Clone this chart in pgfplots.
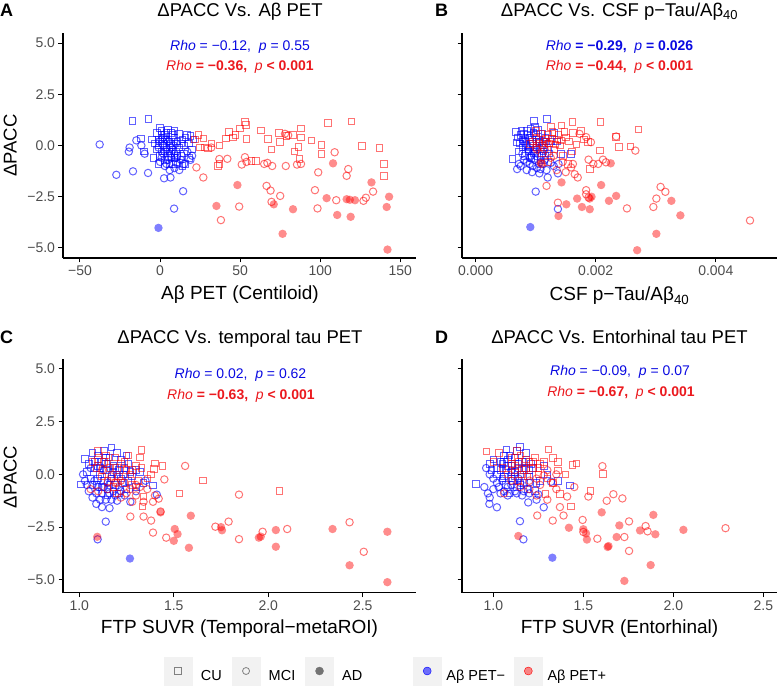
\documentclass[border=0pt]{standalone}
\usepackage{fontspec}
\setmainfont{Liberation Sans}
\usepackage{pgfplots}
\pgfplotsset{compat=1.18}
\definecolor{ptblue}{RGB}{0,0,255}
\definecolor{ptred}{RGB}{255,0,0}
\definecolor{txtblue}{RGB}{10,10,225}
\definecolor{txtred}{RGB}{235,25,30}
\definecolor{tickgray}{RGB}{77,77,77}
\definecolor{keybg}{RGB}{242,242,242}
\newcommand{\fs}[1]{\fontsize{#1}{#1}\selectfont}
\pgfplotsset{
  panel/.style={scale only axis, axis lines=left,
    axis line style={-, black, line width=1.6pt},
    tick style={black, line width=1pt}, tick align=outside, major tick length=4.5pt,
    clip=false, ytick={-5,-2.5,0,2.5,5},
    ticklabel style={font=\fs{14}, text=tickgray}},
  bCU/.style={only marks, color=ptblue, mark=square, mark size=3.3pt, mark options={draw=ptblue, draw opacity=0.62, line width=1pt}},
  bMCI/.style={only marks, color=ptblue, mark=o, mark size=3.7pt, mark options={draw=ptblue, draw opacity=0.62, line width=1pt}},
  bAD/.style={only marks, color=ptblue, mark=*, mark size=4.2pt, mark options={draw opacity=0, fill=ptblue, fill opacity=0.5}},
  rCU/.style={only marks, color=ptred, mark=square, mark size=3.3pt, mark options={draw=ptred, draw opacity=0.55, line width=1pt}},
  rMCI/.style={only marks, color=ptred, mark=o, mark size=3.7pt, mark options={draw=ptred, draw opacity=0.55, line width=1pt}},
  rAD/.style={only marks, color=ptred, mark=*, mark size=4.2pt, mark options={draw opacity=0, fill=ptred, fill opacity=0.45}},
}
\begin{document}
\begin{tikzpicture}
\useasboundingbox (0,0) rectangle (778pt,685pt);
% ---------------- Panel A
\begin{axis}[panel, at={(63pt,427pt)}, anchor=south west, width=353pt, height=225pt,
  xmin=-60.6, xmax=159.8, ymin=-5.49, ymax=5.49,
  xtick={-50,0,50,100,150}, xticklabels={−50,0,50,100,150},
  yticklabels={−5.0,−2.5,0.0,2.5,5.0}]
\addplot[bCU] coordinates {(-17.3,1.2)(-7.1,1.28)(-12,0.35)(-10,-0.3)(-2,0.6)(0,0.85)(1,0.7)(3,0.5)(5,0.75)(7,0.6)(9,0.4)(12,0.55)(14,0.3)(17,0.5)(19,0.45)(20,-0.2)(18,-0.6)(16,-0.9)(14,-1.0)(10,-0.8)(6,-0.9)(3,-0.7)(0,-0.5)(-2,-0.2)(-3,0.1)(-1,0.3)(2,0.1)(4,-0.1)(6,0.2)(8,0)(10,-0.3)(12,-0.1)(15,0)(18,0.1)(21,0.3)(-4,-0.6)(1,-0.3)(7,-0.4)(13,-0.5)(-1,-0.9)(2,0.4)(4,0.6)(6,-0.3)(8,0.5)(9,-0.6)(11,0.2)(5,-0.5)(3,-0.3)(-1,0)(0,0.2)(7,0.1)(9,0.7)(11,-0.5)(13,0.1)(15,-0.4)(16,0.4)(-5,0.3)(1,0.5)(4,0.3)(8,-0.9)};
\addplot[bMCI] coordinates {(-37.7,0.05)(-27.3,-1.43)(-16.9,-1.26)(-7.5,-1.34)(-19,-0.1)(-19.5,-0.3)(-14.8,0.25)(-11.7,0)(-9.6,-0.4)(2.5,-1.6)(6.5,-1.56)(14.4,-2.23)(8.75,-3.08)(0,-0.8)(2,-0.4)(4,-0.2)(5,0.2)(7,-0.6)(9,-1.1)(11,-0.9)(12,-1.2)(1,0.3)(3,0.3)(-1,-0.1)(8,-0.2)(10,0.1)(13,-0.7)(19,-0.7)(20,-0.5)(6,-1.2)(1,-0.6)(3,-1.0)(5,-0.7)(7,-0.1)(9,-0.4)(4,-0.9)(2,0.0)(10,-0.6)(6,0.0)(15,-0.9)(17,-0.3)};
\addplot[bAD] coordinates {(-1,-4.02)};
\addplot[rCU] coordinates {(24,0.5)(25,-0.1)(28,-0.1)(30,-0.15)(27,0.35)(37,0)(37,-0.9)(36,-1.0)(43,0.65)(41,0.35)(45.6,0.4)(50,0.82)(53,1.15)(53.5,1.0)(54,0.33)(60,-0.77)(63,0.74)(67.5,0.33)(69.6,-0.2)(75,0.16)(74.4,0.62)(79,0.45)(83,0.5)(84,-0.3)(88,0.82)(88,0.4)(86.5,-0.08)(94.6,0.25)(100.8,0.03)(100.8,-0.41)(105,1.11)(119.6,1.18)(126,-0.03)(137,-0.11)(140,-0.9)(140,-1.5)(87,-0.65)(22,0.3)(32,0.1)(47,0.5)(57,-0.75)};
\addplot[rMCI] coordinates {(22.7,-1.07)(27,-1.56)(37,-0.66)(42,-0.65)(51,-0.93)(53,-0.57)(54,-0.8)(66.5,-1.97)(69,-2.2)(69.6,-2.75)(70,-1)(75,-2.46)(78,0.57)(78.5,-1)(85.5,-0.93)(49.4,-2.98)(38,-3.64)(96.7,-2.18)(98.3,-3.07)(98.75,-1.31)(109,-0.33)(110,-2.67)(116.5,-1.48)(117.5,-1.15)(127,-2.7)(128.5,-2.55)(133,-2.25)(65,-0.9)(80,0.5)(32,-0.1)(67,-0.85)(88,-0.9)};
\addplot[rAD] coordinates {(35.2,-2.95)(48.3,-1.93)(71,-2.87)(76.5,-4.31)(83,-3.11)(108,-0.87)(104,-2.57)(110.6,-3.39)(116.5,-2.62)(118.5,-2.65)(119,-3.48)(121.7,-2.67)(132,-1.8)(143,-2.5)(141.5,-3)(142,-5.08)};
\end{axis}
% ---------------- Panel B
\begin{axis}[panel, at={(462pt,427pt)}, anchor=south west, width=315pt, height=225pt,
  xmin=-0.228, xmax=5.02, ymin=-5.49, ymax=5.49,
  xtick={0,2,4}, xticklabels={0.000,0.002,0.004}, yticklabels={{},{},{},{},{}}]
\addplot[bCU] coordinates {(0.61,-0.66)(0.68,0.15)(0.67,0.66)(0.97,1.2)(1.19,1.28)(1.59,-0.41)(1.42,-0.41)(0.75,0.5)(0.8,0.2)(0.85,0.7)(0.9,0.4)(0.95,0.1)(1.0,0.5)(1.05,0.3)(1.1,0.0)(1.15,0.4)(1.2,-0.2)(1.25,0.2)(1.3,0.6)(0.72,-0.3)(0.78,-0.1)(0.82,-0.5)(0.88,-0.3)(0.93,-0.6)(0.98,-0.2)(1.03,-0.5)(1.08,-0.7)(1.13,-0.3)(0.7,0.4)(0.76,0.7)(0.83,0.35)(0.86,-0.05)(0.91,0.8)(0.96,0.6)(1.01,-0.1)(1.06,0.15)(1.11,0.55)(1.16,-0.5)(1.22,-0.4)(1.35,0.2)(0.78,0.3)(0.84,0.0)(0.87,0.5)(0.9,-0.1)(0.94,0.3)(0.97,-0.4)(1.02,0.2)(1.07,-0.2)(1.12,0.2)(0.74,0.1)(0.8,0.55)(0.99,0.9)(1.04,0.75)(1.14,-0.1)(1.18,0.2)};
\addplot[bMCI] coordinates {(1.0,-2.25)(1.37,-3.1)(0.69,-1.15)(0.9,-0.9)(1.06,-1.36)(1.2,-1.56)(1.37,-1.36)(1.08,-1.15)(1.38,-0.9)(0.75,-1.0)(0.8,-0.7)(0.85,-1.2)(0.95,-1.0)(1.0,-0.3)(1.12,-0.9)(1.18,-1.2)(0.72,-0.9)(0.88,-0.2)(1.25,-0.85)(1.3,-1.0)(0.82,0.1)(0.92,-0.5)(0.85,-0.8)(0.9,-0.6)(0.98,-0.7)(1.05,-0.9)(1.1,-0.5)(0.78,-0.4)(0.94,-1.3)(1.15,-0.7)(1.02,-1.1)(0.96,-0.3)};
\addplot[bAD] coordinates {(0.91,-3.98)};
\addplot[rCU] coordinates {(1.43,0.98)(1.61,1.15)(2.08,1.15)(2.71,0.79)(2.34,0.41)(2.39,-0.08)(2.58,-0.05)(1.87,0.16)(1.68,0.05)(1.54,-0.9)(1.9,-1.15)(2.07,-0.25)(1.48,0.66)(1.28,0.66)(1.09,0.58)(1.0,0.33)(0.9,0.08)(1.15,0.2)(1.2,0.5)(1.35,0.3)(1.4,0.0)(1.5,0.4)(1.55,0.2)(1.62,0.6)(1.3,-0.2)(1.25,0.9)(1.45,-0.5)(1.1,-0.4)(1.0,0.7)(0.95,0.2)(1.75,0.7)(1.8,0.3)(1.2,-0.8)(1.6,-0.3)(1.05,0.1)(1.12,0.0)(1.17,0.35)(1.22,0.1)(1.27,0.35)(1.33,0.05)(1.38,0.5)(1.42,0.25)};
\addplot[rMCI] coordinates {(1.73,0.57)(1.84,0.41)(1.92,0.16)(1.88,-0.69)(1.96,-0.9)(2.04,-0.9)(2.12,-0.69)(2.17,-0.82)(1.59,-1.07)(1.65,-1.4)(1.7,-1.56)(1.18,-1.97)(1.37,-2.79)(1.84,-2.18)(1.84,-2.38)(1.88,-2.54)(2.52,-3.07)(2.34,0.44)(2.66,-0.25)(2.96,-3.0)(3.01,-2.59)(3.08,-2.02)(3.16,-2.26)(4.57,-3.66)(1.62,-0.9)(1.3,-0.5)(1.1,-0.9)(1.2,0.1)(1.45,-0.8)(1.5,-1.3)(1.0,-0.1)(1.35,-1.2)(1.25,-0.6)(1.02,-0.2)(1.15,-0.2)};
\addplot[rAD] coordinates {(1.43,-1.8)(1.51,-2.87)(1.38,-3.44)(1.69,-2.59)(1.77,-3.0)(1.9,-3.11)(1.9,-2.59)(1.93,-2.5)(2.09,-1.93)(2.22,-2.7)(2.34,-2.46)(2.25,-0.87)(3.26,-2.7)(3.41,-3.41)(3.01,-4.31)(2.69,-5.11)(1.08,-0.85)};
\end{axis}
% ---------------- Panel C
\begin{axis}[panel, at={(63pt,92.5pt)}, anchor=south west, width=353pt, height=233.5pt,
  xmin=0.9138, xmax=2.7815, ymin=-5.6, ymax=5.47,
  xtick={1,1.5,2,2.5}, xticklabels={1.0,1.5,2.0,2.5},
  yticklabels={−5.0,−2.5,0.0,2.5,5.0}]
\addplot[bCU] coordinates {(1.01,-0.48)(1.03,0.72)(1.17,1.28)(1.39,-0.53)(1.34,-0.4)(1.05,0.5)(1.08,0.3)(1.1,0.9)(1.12,0.6)(1.14,0.2)(1.16,0.8)(1.18,0.4)(1.2,0.0)(1.22,0.7)(1.24,0.3)(1.26,0.5)(1.28,-0.1)(1.3,0.2)(1.06,-0.2)(1.09,-0.5)(1.11,0.0)(1.13,-0.3)(1.15,-0.7)(1.17,-0.2)(1.19,-0.5)(1.21,-0.9)(1.23,-0.4)(1.25,-0.7)(1.27,0.1)(1.07,1.0)(1.13,1.1)(1.2,1.0)(1.15,-1.0)(1.1,0.4)(1.18,0.1)(1.22,-0.2)(1.25,0.9)(1.32,0.1)(1.04,0.1)(1.3,-0.6)(1.08,0.6)(1.11,0.3)(1.14,0.5)(1.17,0.0)(1.19,0.3)(1.21,0.2)(1.23,0.0)(1.26,-0.3)(1.12,-0.6)(1.16,-0.5)(1.1,-0.2)(1.14,0.8)};
\addplot[bMCI] coordinates {(1.14,-2.24)(1.097,-3.08)(1.02,0.0)(1.03,-0.3)(1.05,-0.8)(1.07,-1.1)(1.09,-1.4)(1.12,-1.55)(1.16,-1.6)(1.2,-1.25)(1.27,-1.3)(1.41,-0.96)(1.08,-0.3)(1.1,-0.6)(1.12,-0.9)(1.15,-0.4)(1.18,-0.8)(1.21,-0.6)(1.24,-1.0)(1.3,-0.8)(1.06,0.3)(1.13,0.2)(1.35,-0.3)(1.04,-0.5)(1.17,-1.2)(1.09,-0.9)(1.13,-0.6)(1.16,-0.9)(1.19,-1.0)(1.22,-0.8)(1.11,-1.2)(1.07,-0.5)(1.14,-1.2)};
\addplot[bAD] coordinates {(1.268,-3.99)};
\addplot[rCU] coordinates {(1.33,1.15)(1.32,0.8)(1.40,0.51)(1.44,0.4)(1.395,0.26)(1.34,-1.04)(1.335,-1.52)(1.53,-0.91)(1.655,-0.29)(2.06,-0.8)(1.3,0.4)(1.27,0.0)(1.24,-0.4)(1.1,1.1)(1.13,0.6)(1.16,0.3)(1.19,0.8)(1.22,0.5)(1.25,0.2)(1.28,-0.5)(1.09,0.3)(1.12,-0.1)(1.15,-0.3)(1.18,-0.6)(1.21,-0.1)(1.31,-0.3)(1.36,-0.2)(1.38,0.0)(1.2,-0.9)(1.07,0.6)(1.26,0.9)(1.14,0.9)(1.1,0.7)(1.15,0.5)(1.2,0.3)(1.24,0.6)(1.28,0.2)(1.33,0.3)};
\addplot[rMCI] coordinates {(1.56,0.4)(1.45,-0.24)(1.40,-1.0)(1.39,-1.3)(1.43,-1.76)(1.27,-2.0)(1.34,-2.0)(1.38,-2.19)(1.39,-2.76)(1.46,-3.0)(1.72,-2.48)(1.79,-2.24)(1.845,-3.07)(1.845,-0.96)(1.97,-2.72)(2.10,-2.59)(2.43,-2.27)(2.505,-3.67)(1.34,-1.3)(1.3,-1.0)(1.1,-0.8)(1.15,-0.7)(1.25,-0.9)(1.22,-1.1)(1.2,-0.4)(1.32,-0.6)(1.06,-0.7)(1.36,-0.7)(1.42,-1.15)(1.28,-1.3)(1.17,-0.1)(1.22,-0.3)(1.27,-0.7)(1.3,-0.5)(1.19,-0.4)(1.12,0.2)};
\addplot[rAD] coordinates {(1.43,-1.8)(1.505,-2.59)(1.52,-2.83)(1.50,-3.15)(1.58,-3.48)(1.59,-1.96)(1.75,-2.5)(1.755,-2.65)(1.95,-3.0)(1.96,-2.95)(2.04,-2.64)(2.04,-3.43)(2.34,-2.59)(2.43,-4.31)(2.63,-2.72)(2.63,-5.11)(1.095,-2.96)};
\end{axis}
% ---------------- Panel D
\begin{axis}[panel, at={(462pt,92.5pt)}, anchor=south west, width=315pt, height=233.5pt,
  xmin=0.826, xmax=2.576, ymin=-5.6, ymax=5.47,
  xtick={1,1.5,2,2.5}, xticklabels={1.0,1.5,2.0,2.5}, yticklabels={{},{},{},{},{}}]
\addplot[bCU] coordinates {(0.904,-0.47)(1.426,-0.52)(1.074,1.17)(1.148,1.3)(0.98,0.5)(1.0,0.7)(1.02,0.3)(1.04,0.6)(1.06,0.9)(1.08,0.4)(1.1,0.1)(1.12,0.8)(1.14,0.5)(1.16,0.2)(1.18,0.6)(1.2,-0.1)(1.22,0.3)(1.24,-0.4)(1.26,-0.3)(1.3,0.0)(1.36,-0.3)(1.05,-0.2)(1.07,-0.5)(1.09,-0.9)(1.11,-0.3)(1.13,-0.6)(1.15,0.0)(1.17,-0.4)(1.19,-0.7)(1.02,0.0)(1.09,0.9)(1.13,1.1)(1.18,1.0)(1.07,0.2)(1.12,-0.1)(1.21,0.5)(1.23,-0.8)(1.05,0.5)(0.99,0.2)(1.28,0.4)(1.04,0.2)(1.06,0.6)(1.08,0.7)(1.1,0.4)(1.12,0.1)(1.14,0.3)(1.16,0.6)(1.18,0.3)(1.1,-0.2)(1.15,-0.5)(1.2,0.2)(1.06,-0.1)};
\addplot[bMCI] coordinates {(1.148,-2.22)(1.167,-3.08)(1.02,-1.56)(0.978,-1.4)(0.95,-0.6)(0.97,-0.9)(0.98,-1.1)(1.0,-0.2)(1.03,-0.6)(1.06,-0.8)(1.1,-0.5)(1.13,-0.9)(1.17,-0.8)(1.194,-1.33)(1.24,-1.2)(1.28,-1.56)(1.25,-0.95)(1.32,-0.35)(0.96,0.3)(0.98,0.0)(1.05,-0.3)(1.15,-0.4)(1.1,0.2)(1.08,-1.0)(1.2,-0.9)(1.02,-0.4)(1.04,-0.9)(1.08,-0.6)(1.12,-0.8)(1.16,-1.0)(1.2,-0.4)(1.0,-0.7)(1.14,-0.2)};
\addplot[bAD] coordinates {(1.328,-3.95)};
\addplot[rCU] coordinates {(0.963,1.09)(1.306,1.17)(1.33,0.78)(1.36,0.58)(1.36,0.19)(1.44,0.44)(1.463,0.52)(1.61,0.03)(1.54,-0.78)(1.43,-1.52)(1.37,-0.94)(1.29,-0.94)(1.13,1.1)(1.18,0.7)(1.22,0.3)(1.25,0.0)(1.1,0.5)(1.15,0.9)(1.2,0.6)(1.0,0.6)(1.05,0.3)(1.08,0.0)(1.12,0.4)(1.17,0.2)(1.23,0.8)(1.26,0.5)(1.3,-0.2)(1.33,-0.4)(1.14,-0.3)(1.19,-0.1)(1.03,1.0)(1.4,0.0)(1.1,0.8)(1.14,0.6)(1.18,0.3)(1.22,0.6)(1.16,0.0)(1.25,0.3)(1.28,0.6)};
\addplot[rMCI] coordinates {(1.606,0.39)(1.528,-1.05)(1.63,-1.25)(1.667,-0.94)(1.717,-1.14)(1.496,-2.16)(1.5,-2.73)(1.578,-3.05)(1.754,-2.23)(1.728,-2.97)(1.754,-3.63)(1.846,-2.45)(1.857,-2.7)(2.29,-2.55)(1.33,-2.19)(1.244,-1.95)(1.39,-1.95)(1.37,-1.55)(1.41,-1.05)(1.33,-0.4)(1.28,-0.05)(1.06,-0.9)(1.15,-0.6)(1.2,-0.7)(1.24,-1.0)(1.35,-0.7)(1.3,-1.2)(1.1,-0.3)(1.45,-0.6)(1.26,-0.5)(1.2,-0.3)(1.12,0.2)(1.24,-0.2)(1.3,0.2)(1.35,0.0)};
\addplot[rAD] coordinates {(1.602,-1.8)(1.42,-2.53)(1.5,-2.6)(1.515,-2.8)(1.52,-3.09)(1.635,-3.44)(1.7,-2.42)(1.685,-2.97)(1.815,-2.66)(1.889,-1.92)(1.9,-2.84)(2.056,-2.63)(1.874,-4.3)(1.728,-5.05)(1.139,-2.92)(1.64,-3.4)};
\end{axis}
% ---------------- Legends
\begin{axis}[hide axis, scale only axis, width=1pt, height=1pt, at={(164pt,14pt)}, anchor=south west,
  xmin=0,xmax=1,ymin=0,ymax=1, legend columns=3,
  legend style={at={(0,0)}, anchor=west, draw=none, fill=none, inner sep=0pt, outer sep=0pt,
    nodes={inner sep=0pt, text=black, font=\fs{14.5}},
    /tikz/every odd column/.append style={column sep=8.5pt},
    /tikz/every even column/.append style={column sep=10pt}}]
\addlegendimage{legend image code/.code={\fill[keybg] (0pt,-8.8pt) rectangle (28pt,19.2pt); \draw[black!50, line width=0.8pt] (10.5pt,1.7pt) rectangle (17.5pt,8.7pt);}}
\addlegendentry{CU}
\addlegendimage{legend image code/.code={\fill[keybg] (0pt,-8.8pt) rectangle (28pt,19.2pt); \draw[black!50, line width=0.8pt] (14pt,5.2pt) circle (3.5pt);}}
\addlegendentry{MCI}
\addlegendimage{legend image code/.code={\fill[keybg] (0pt,-8.8pt) rectangle (28pt,19.2pt); \fill[black!55] (14pt,5.2pt) circle (4pt);}}
\addlegendentry{AD}
\end{axis}
\begin{axis}[hide axis, scale only axis, width=1pt, height=1pt, at={(413pt,14pt)}, anchor=south west,
  xmin=0,xmax=1,ymin=0,ymax=1, legend columns=2,
  legend style={at={(0,0)}, anchor=west, draw=none, fill=none, inner sep=0pt, outer sep=0pt,
    nodes={inner sep=0pt, text=black, font=\fs{14.5}},
    /tikz/every odd column/.append style={column sep=5pt},
    /tikz/every even column/.append style={column sep=9pt}}]
\addlegendimage{legend image code/.code={\fill[keybg] (0pt,-8.8pt) rectangle (28pt,19.2pt); \fill[ptblue, fill opacity=0.55] (14pt,5.2pt) circle (4pt);}}
\addlegendentry{Aβ PET−}
\addlegendimage{legend image code/.code={\fill[keybg] (0pt,-8.8pt) rectangle (28pt,19.2pt); \fill[ptred, fill opacity=0.45] (14pt,5.2pt) circle (4pt);}}
\addlegendentry{Aβ PET+}
\end{axis}
% ---------------- Texts
\begin{scope}[every node/.style={inner sep=0pt}]
\node[anchor=base west, font=\fs{18}\bfseries] at (0pt,668.3pt) {A};
\node[anchor=base west, font=\fs{18}\bfseries] at (435pt,668.3pt) {B};
\node[anchor=base west, font=\fs{18}\bfseries] at (0pt,341.7pt) {C};
\node[anchor=base west, font=\fs{18}\bfseries] at (435pt,341.7pt) {D};
\node[anchor=base, font=\fs{18.5}] at (240pt,668.3pt) {ΔPACC Vs. Aβ PET};
\node[anchor=base, font=\fs{18.5}] at (619.5pt,668.3pt) {ΔPACC Vs. CSF p−Tau/Aβ\textsubscript{40}};
\node[anchor=base, font=\fs{18.5}] at (240pt,341.5pt) {ΔPACC Vs. temporal tau PET};
\node[anchor=base, font=\fs{18.5}] at (619.5pt,341.5pt) {ΔPACC Vs. Entorhinal tau PET};
\node[anchor=base, font=\fs{19}] at (240pt,385pt) {Aβ PET (Centiloid)};
\node[anchor=base, font=\fs{19}] at (619.5pt,384pt) {CSF p−Tau/Aβ\textsubscript{40}};
\node[anchor=base, font=\fs{19}] at (239.5pt,51.3pt) {FTP SUVR (Temporal−metaROI)};
\node[anchor=base, font=\fs{19}] at (619.5pt,51.3pt) {FTP SUVR (Entorhinal)};
\node[anchor=base, rotate=90, font=\fs{18.5}] at (16.5pt,539.5pt) {ΔPACC};
\node[anchor=base, rotate=90, font=\fs{18.5}] at (16.5pt,208pt) {ΔPACC};
\node[anchor=base, font=\fs{14}, text=txtblue] at (240pt,634pt) {\textit{Rho} = −0.12,\ \ \textit{p} = 0.55};
\node[anchor=base, font=\fs{14}, text=txtred] at (240pt,614pt) {\textit{Rho} \textbf{= −0.36,}\ \ \textit{p} \textbf{< 0.001}};
\node[anchor=base, font=\fs{14}, text=txtblue] at (619.5pt,634pt) {\textit{Rho} \textbf{= −0.29,}\ \ \textit{p} \textbf{= 0.026}};
\node[anchor=base, font=\fs{14}, text=txtred] at (619.5pt,614pt) {\textit{Rho} \textbf{= −0.44,}\ \ \textit{p} \textbf{< 0.001}};
\node[anchor=base, font=\fs{14}, text=txtblue] at (240.5pt,306pt) {\textit{Rho} = 0.02,\ \ \textit{p} = 0.62};
\node[anchor=base, font=\fs{14}, text=txtred] at (241pt,285pt) {\textit{Rho} \textbf{= −0.63,}\ \ \textit{p} \textbf{< 0.001}};
\node[anchor=base, font=\fs{14}, text=txtblue] at (620pt,309.3pt) {\textit{Rho} = −0.09,\ \ \textit{p} = 0.07};
\node[anchor=base, font=\fs{14}, text=txtred] at (621pt,288.3pt) {\textit{Rho} \textbf{= −0.67,}\ \ \textit{p} \textbf{< 0.001}};
\end{scope}
\end{tikzpicture}
\end{document}
